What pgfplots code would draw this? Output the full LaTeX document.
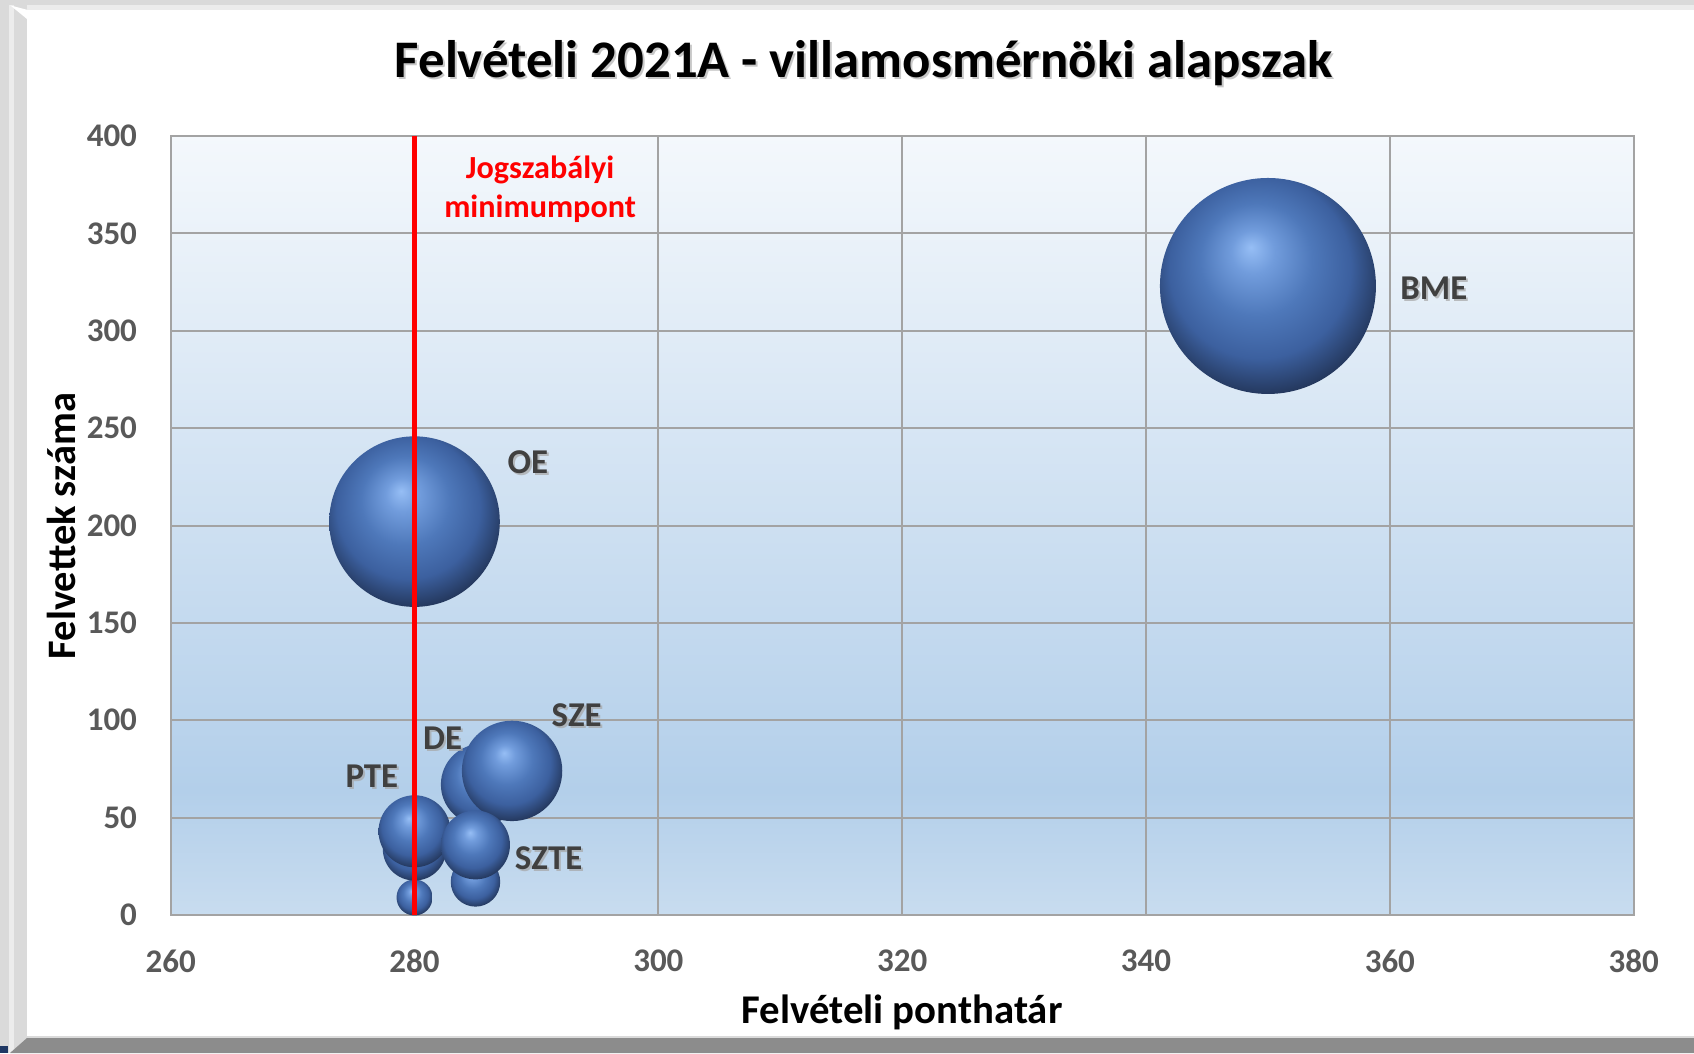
\documentclass[border=0pt]{standalone}
\usepackage{pgfplots}
\usepackage{pgfplotstable}
\pgfplotsset{compat=1.18}
\usepackage{fontspec}
\setmainfont{Carlito}

\definecolor{bgtop}{HTML}{F4F8FC}
\definecolor{bgmid}{HTML}{B3CFEA}
\definecolor{bgbot}{HTML}{C8DCEF}
\definecolor{gridc}{HTML}{A3A3A3}
\definecolor{tickc}{HTML}{595959}
\definecolor{lblc}{HTML}{404040}
\definecolor{stripc}{HTML}{DADADA}
\definecolor{stripl}{HTML}{ECECEC}
\definecolor{barc}{HTML}{8C8C8C}
\definecolor{navy}{HTML}{1F3864}
\definecolor{b0}{HTML}{96BEF5}
\definecolor{b1}{HTML}{719CDC}
\definecolor{b2}{HTML}{4E78BA}
\definecolor{b3}{HTML}{3C609F}
\definecolor{b4}{HTML}{203152}
\definecolor{b5}{HTML}{4E70AE}
\definecolor{b6}{HTML}{7092D2}

\pgfdeclareverticalshading{plotbg}{100bp}{color(0bp)=(bgbot); color(25bp)=(bgbot); color(33bp)=(bgmid); color(75bp)=(bgtop); color(100bp)=(bgtop)}
\pgfdeclareradialshading{myball}{\pgfpoint{-4bp}{9bp}}{color(0bp)=(b0); color(5bp)=(b1); color(13bp)=(b2); color(21bp)=(b3); color(29bp)=(b4); color(33bp)=(b5); color(40bp)=(b6)}
\pgfdeclareplotmark{myball}{%
  \pgfpathcircle{\pgfpointorigin}{\pgfplotmarksize}%
  \pgfshadepath{myball}{0}%
  \pgfusepath{discard}%
}

\pgfplotstableread{
x y s
280 9 9
285 17 17
280 34 28
285.5 67 46
288 74 70
280 43 36
285 36 33
280 202 202
350 323 324
}\bubbles

\tikzset{
  lbl/.style={font=\bfseries\fontsize{8.7}{10}\selectfont, text=lblc, inner sep=0pt},
  lblsh/.style={font=\bfseries\fontsize{8.7}{10}\selectfont, text=black!35, opacity=0.7, inner sep=0pt, xshift=0.5pt, yshift=-0.5pt},
}

\begin{document}
\begin{tikzpicture}
% frame decoration
\fill[white] (0,0) rectangle (423.5pt,263.25pt);
\fill[stripc] (0,0) rectangle (6.75pt,263.25pt);
\fill[stripl] (2.2pt,0) rectangle (3.6pt,263.25pt);
\fill[stripc] (0,261.9pt) rectangle (423.5pt,263.25pt);
\fill[stripl] (6.75pt,260.8pt) rectangle (423.5pt,261.9pt);
\fill[white] (2.6pt,261.9pt) -- (6.75pt,258.5pt) -- (6.75pt,260.8pt) -- cycle;
\fill[barc] (2.5pt,0) -- (6.75pt,3.75pt) -- (423.5pt,3.75pt) -- (423.5pt,0) -- cycle;
\fill[stripc] (6.75pt,3.75pt) rectangle (423.5pt,4.3pt);
\fill[navy] (0,0) rectangle (2pt,1.75pt);
\useasboundingbox (0,0) rectangle (423.5pt,263.25pt);

\begin{axis}[
  at={(42.675pt,34.5pt)}, anchor=south west,
  scale only axis, width=365.75pt, height=194.75pt,
  xmin=260, xmax=380, ymin=0, ymax=400,
  xtick={260,280,...,380}, ytick={0,50,...,400},
  grid=major,
  major grid style={gridc, line width=0.5pt},
  axis line style={gridc, line width=0.5pt},
  tick style={draw=none},
  axis background/.style={shading=plotbg},
  /pgf/number format/assume math mode=true,
  ticklabel style={font=\bfseries\fontsize{8.25}{10}\selectfont, text=tickc},
  yticklabel style={xshift=-4.9pt},
  xticklabel style={yshift=-5.1pt},
  clip=false,
  clip marker paths=true,
]
\addplot[scatter, only marks, mark=myball,
  visualization depends on={\thisrow{s} \as \bsize},
  scatter/@pre marker code/.append style={/tikz/mark size={1.5*sqrt(\bsize)}}]
  table[x=x, y=y] {\bubbles};
\addplot[color=red, line width=1.1pt] coordinates {(280,0) (280,400)};

\node[font=\bfseries\fontsize{8.05}{9.7}\selectfont, text=red, align=center] at (axis cs:290.3,372.8) {Jogszabályi\\minimumpont};

\node[lblsh] at (axis cs:363.6,322) {BME};
\node[lbl] at (axis cs:363.6,322) {BME};
\node[lblsh] at (axis cs:289.3,232.6) {OE};
\node[lbl] at (axis cs:289.3,232.6) {OE};
\node[lblsh] at (axis cs:293.3,102.6) {SZE};
\node[lbl] at (axis cs:293.3,102.6) {SZE};
\node[lblsh] at (axis cs:282.3,90.9) {DE};
\node[lbl] at (axis cs:282.3,90.9) {DE};
\node[lblsh] at (axis cs:276.5,71.5) {PTE};
\node[lbl] at (axis cs:276.5,71.5) {PTE};
\node[lblsh] at (axis cs:291.0,29.4) {SZTE};
\node[lbl] at (axis cs:291.0,29.4) {SZTE};
\end{axis}

% title
\node[font=\bfseries\fontsize{13.2}{16}\selectfont, text=black!30, anchor=base, opacity=0.7] at (216.5pt,243.3pt) {Felvételi 2021A - villamosmérnöki alapszak};
\node[font=\bfseries\fontsize{13.2}{16}\selectfont, anchor=base] at (216pt,243.8pt) {Felvételi 2021A - villamosmérnöki alapszak};
% axis labels
\node[font=\bfseries\fontsize{10.2}{12}\selectfont, anchor=base] at (225.5pt,7.5pt) {Felvételi ponthatár};
\node[font=\bfseries\fontsize{10.1}{12}\selectfont, anchor=base, rotate=90] at (18.9pt,131.75pt) {Felvettek száma};
\end{tikzpicture}
\end{document}
